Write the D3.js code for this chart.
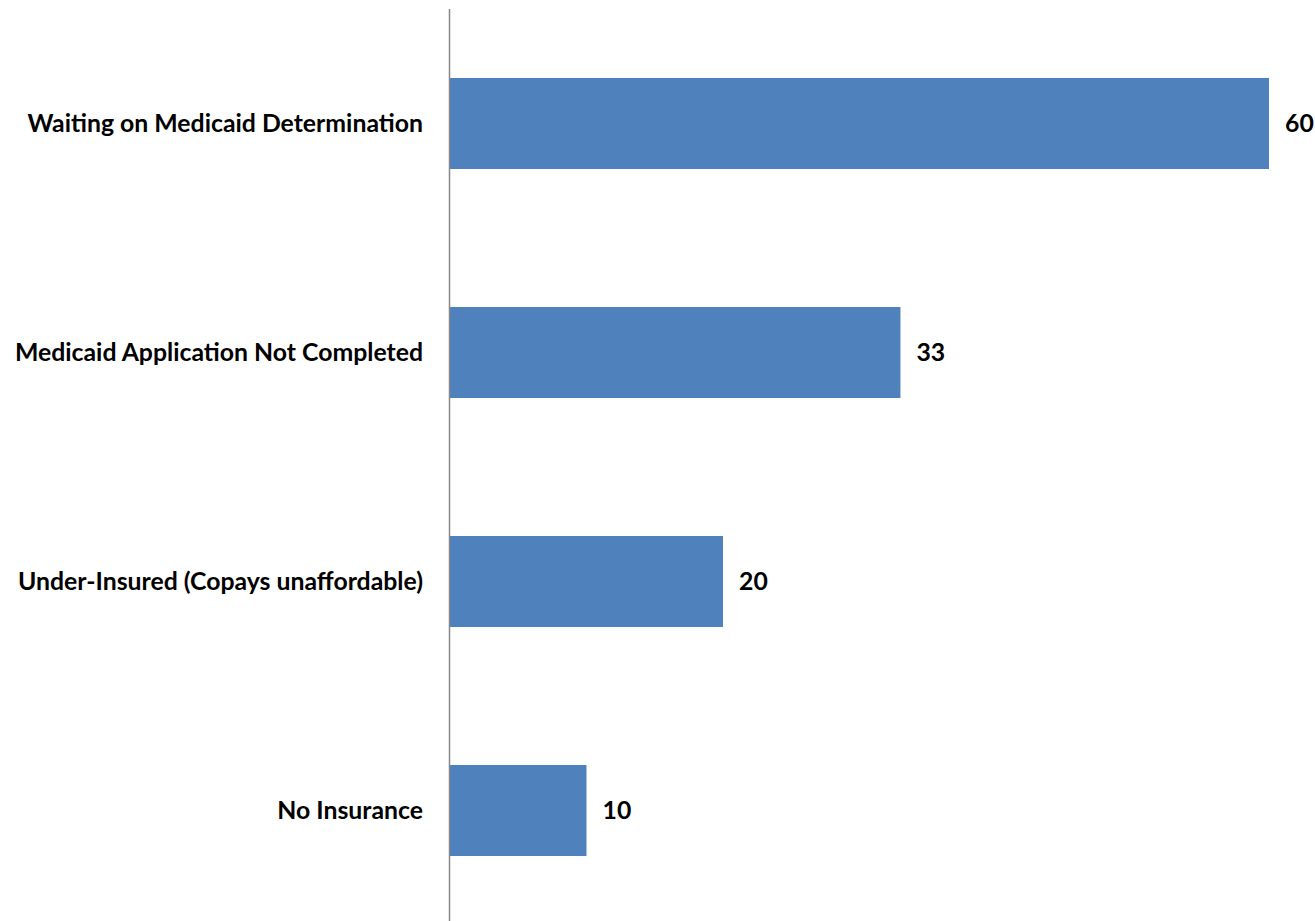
<!DOCTYPE html>
<html><head><meta charset="utf-8">
<script src="https://cdn.jsdelivr.net/npm/d3@7"></script>
<style>body{margin:0;background:#fff}</style>
</head><body>
<svg id="c" width="1315" height="921"></svg>
<script>
const categories = ["Waiting on Medicaid Determination","Medicaid Application Not Completed","Under-Insured (Copays unaffordable)","No Insurance"];
const values = [60,33,20,10];

const svg = d3.select("#c");
const x = d3.scaleLinear().domain([0,60]).range([450,1269]);
const y = d3.scaleBand().domain(categories).range([9,925]).paddingInner(0.6026).paddingOuter(0.3013);
const font = "Lato, 'Open Sans', sans-serif";

svg.selectAll("rect.bar").data(categories).join("rect")
  .attr("class","bar")
  .attr("x", x(0))
  .attr("y", d=>y(d))
  .attr("width", (d,i)=>x(values[i])-x(0))
  .attr("height", y.bandwidth())
  .attr("fill","#4F81BD");

svg.append("line").attr("x1",449.5).attr("x2",449.5).attr("y1",9).attr("y2",921)
  .attr("stroke","#888").attr("stroke-width",1.5);

svg.selectAll("text.cat").data(categories).join("text")
  .attr("class","cat")
  .attr("x", 423)
  .attr("y", d=>y(d)+y.bandwidth()/2)
  .attr("dy","0.35em")
  .attr("text-anchor","end")
  .style("font-family",font).style("font-weight","bold").style("font-size","24.8px")
  .attr("fill","#000")
  .text(d=>d);

svg.selectAll("text.val").data(categories).join("text")
  .attr("class","val")
  .attr("x",(d,i)=>x(values[i])+16)
  .attr("y", d=>y(d)+y.bandwidth()/2)
  .attr("dy","0.35em")
  .style("font-family",font).style("font-weight","bold").style("font-size","24.8px")
  .attr("fill","#000")
  .text((d,i)=>values[i]);
</script>
</body></html>
